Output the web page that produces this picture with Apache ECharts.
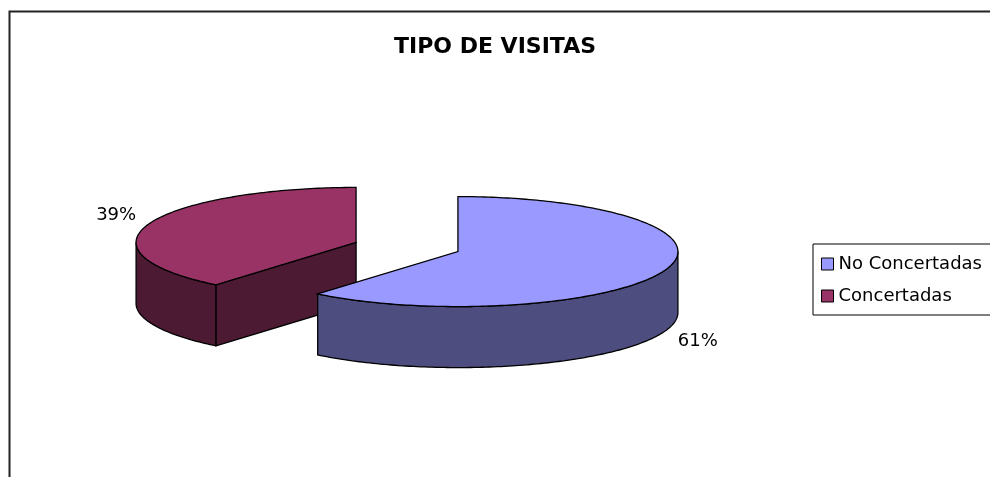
<!DOCTYPE html>
<html>
<head>
<meta charset="utf-8">
<script src="https://cdn.jsdelivr.net/npm/echarts@6/dist/echarts.min.js"></script>
<style>
  html, body { margin: 0; padding: 0; background: #fff; }
  #chart { width: 990px; height: 477px; }
</style>
</head>
<body>
<div id="chart"></div>
<script>
const categories = ['No Concertadas', 'Concertadas'];
const values = [61, 39];
const topColors = ['#9999FF', '#993366'];
const sideColors = ['#4D4D80', '#4D1A33'];

// pie layout (unexploded centre, ellipse radii, thickness)
const cx = 407, cy = 247, rx = 220, ry = 55, depth = 61, explode = 0.246;

const total = values.reduce((a, b) => a + b, 0);
const startAngles = [];
values.reduce((acc, v, i) => { startAngles[i] = acc; return acc + v / total * 360; }, 0);

const rad = (d) => d * Math.PI / 180;
// angle measured clockwise from 12 o'clock
const rim = (ox, oy, a) => [ox + rx * Math.sin(rad(a)), oy - ry * Math.cos(rad(a))];

const arcPoints = (ox, oy, a0, a1, dy) => {
  const pts = [];
  const steps = Math.max(2, Math.ceil(Math.abs(a1 - a0)));
  for (let k = 0; k <= steps; k++) {
    const p = rim(ox, oy, a0 + (a1 - a0) * k / steps);
    pts.push([p[0], p[1] + dy]);
  }
  return pts;
};

const renderSlice = (idx) => (params, api) => {
  const a0 = startAngles[idx];
  const a1 = a0 + values[idx] / total * 360;
  const mid = (a0 + a1) / 2;
  const ox = cx + explode * rx * Math.sin(rad(mid));
  const oy = cy - explode * ry * Math.cos(rad(mid));
  const line = { stroke: '#000', lineWidth: 1.3 };
  const children = [];

  // radial side faces that face the viewer
  [[a0, a0 - 90], [a1, a1 + 90]].forEach(([a, n]) => {
    if (Math.cos(rad(n)) < -0.01) {
      const p = rim(ox, oy, a);
      children.push({
        type: 'polygon',
        shape: { points: [[ox, oy], p, [p[0], p[1] + depth], [ox, oy + depth]] },
        style: Object.assign({ fill: sideColors[idx] }, line)
      });
    }
  });

  // front part of the outer wall
  const w0 = Math.max(a0, 90), w1 = Math.min(a1, 270);
  if (w1 > w0) {
    const topArc = arcPoints(ox, oy, w0, w1, 0);
    const botArc = arcPoints(ox, oy, w1, w0, depth);
    children.push({
      type: 'polygon',
      shape: { points: topArc.concat(botArc) },
      style: Object.assign({ fill: sideColors[idx] }, line)
    });
  }

  // top face
  children.push({
    type: 'polygon',
    shape: { points: [[ox, oy]].concat(arcPoints(ox, oy, a0, a1, 0)) },
    style: Object.assign({ fill: topColors[idx] }, line)
  });

  // percentage label
  const lp = rim(ox, oy, mid);
  const front = Math.cos(rad(mid)) < 0 ? depth : 0;
  children.push({
    type: 'text',
    x: lp[0] + 35 * Math.sin(rad(mid)),
    y: lp[1] + front - 27 * Math.cos(rad(mid)) + 1,
    style: {
      text: Math.round(values[idx] / total * 100) + '%',
      fill: '#000',
      font: '18px "DejaVu Sans"',
      align: 'center',
      verticalAlign: 'middle'
    }
  });

  return { type: 'group', children };
};

const chart = echarts.init(document.getElementById('chart'));

chart.setOption({
  animation: false,
  backgroundColor: '#fff',
  title: {
    text: 'TIPO DE VISITAS',
    left: 'center',
    top: 31,
    textStyle: { fontFamily: 'DejaVu Sans', fontWeight: 'bold', fontSize: 22, color: '#000' }
  },
  legend: {
    data: categories,
    orient: 'vertical',
    left: 813,
    top: 244,
    padding: [11, 40, 10, 8],
    itemGap: 14,
    itemWidth: 12,
    itemHeight: 12,
    icon: 'rect',
    backgroundColor: '#fff',
    borderColor: '#000',
    borderWidth: 1,
    borderRadius: 0,
    itemStyle: { borderColor: '#000', borderWidth: 1 },
    textStyle: { fontFamily: 'DejaVu Sans', fontSize: 18, color: '#000' }
  },
  graphic: [{
    type: 'rect',
    left: 7,
    top: 9,
    shape: { width: 1100, height: 600 },
    style: { fill: 'none', stroke: '#222', lineWidth: 2 },
    z: 0
  }],
  series: categories.map((name, i) => ({
    name,
    type: 'custom',
    coordinateSystem: 'none',
    z: i === 0 ? 3 : 2,
    itemStyle: { color: topColors[i] },
    data: [values[i]],
    renderItem: renderSlice(i)
  }))
});

window.addEventListener('resize', () => chart.resize());
</script>
</body>
</html>
